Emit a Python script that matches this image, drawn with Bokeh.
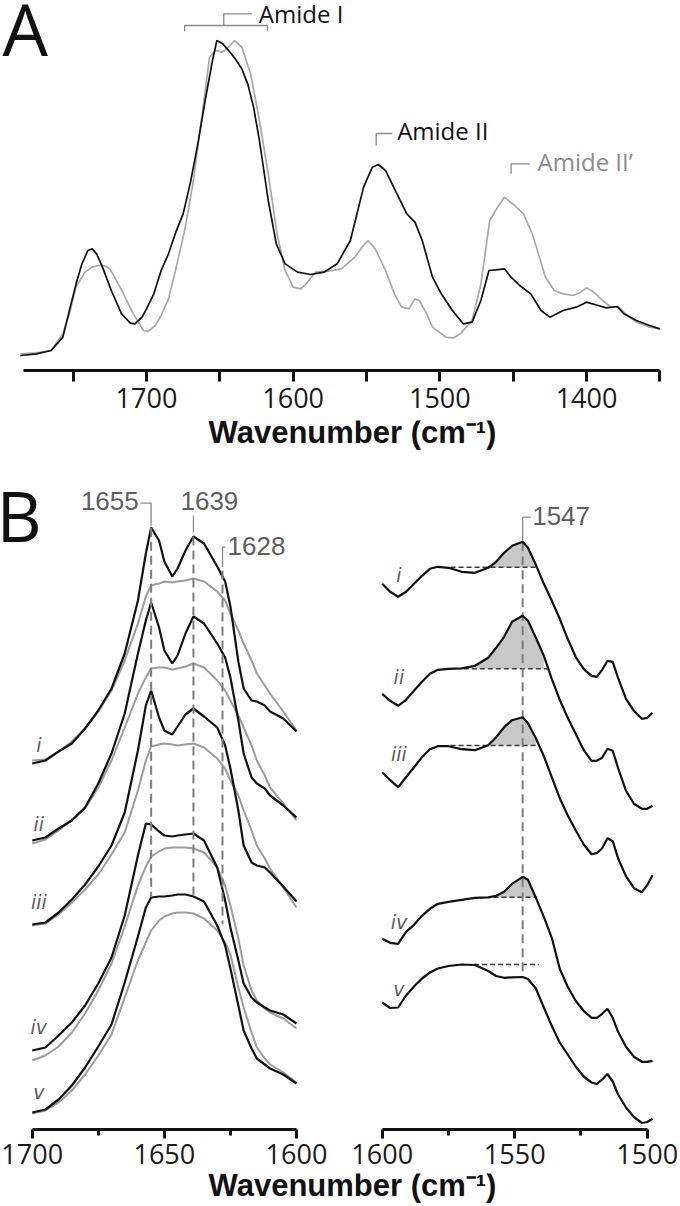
import numpy as np
from bokeh.plotting import figure
from bokeh.models import Range1d, FixedTicker, Label
from bokeh.layouts import column, row
from bokeh.embed import file_html
from bokeh.resources import INLINE

# ---------------- Panel A data (wavenumber, absorbance a.u.) ----------------
wn_a_black = [1786, 1775, 1765, 1757, 1752, 1748, 1744, 1740, 1737, 1734, 1730, 1724, 1717, 1711, 1708,
              1703, 1700, 1695, 1690, 1685, 1680, 1675, 1670, 1665, 1660, 1655, 1652, 1648, 1645, 1640,
              1635, 1631, 1627, 1623, 1617, 1611.5, 1605.5, 1597, 1588, 1579, 1570, 1561, 1552, 1546, 1542,
              1537, 1531.5, 1522.5, 1517, 1512, 1505, 1499, 1491.5, 1484, 1478, 1472, 1466.5, 1462, 1456,
              1451.5, 1445.5, 1438, 1431, 1425, 1416, 1407, 1400, 1392, 1386.5, 1379, 1374.5, 1366, 1357, 1350]
abs_a_black = [0.5, 1.0, 2.0, 6.0, 15, 22, 28, 32, 32.5, 31, 27, 20, 13, 10.2, 10,
               12, 14.5, 19, 26, 31, 37.5, 43, 52.5, 64, 77, 89, 95, 94, 92.5, 89.8,
               86.5, 82, 75, 65, 47, 34, 28, 25.5, 24.8, 25.5, 28, 35, 51, 57, 57.8,
               56, 51, 43, 40.5, 35, 24, 19, 14, 10, 10.5, 17, 26, 26.2, 26.5,
               24, 21.5, 19, 14, 12, 14, 15, 16.5, 15.5, 14.8, 15.2, 13, 11, 9.5, 8.5]
wn_a_gray = [1786, 1775, 1765, 1757, 1752, 1748, 1742, 1737, 1733, 1729, 1725, 1718, 1709, 1702, 1699,
             1694, 1690, 1685, 1680, 1674, 1668, 1662, 1657, 1653, 1648.5, 1644, 1640, 1635, 1629, 1623,
             1617, 1611, 1605.5, 1600, 1595, 1591, 1585, 1576, 1567, 1558, 1553, 1549, 1544, 1537, 1531,
             1526, 1521, 1517, 1514, 1509, 1505, 1496, 1491, 1486, 1478, 1472, 1466, 1462, 1456, 1449,
             1443, 1437, 1428, 1422, 1416, 1409, 1404, 1400, 1395, 1389, 1384, 1378, 1372, 1366, 1357, 1350]
abs_a_gray = [1.0, 1.3, 2.0, 7.0, 14, 21, 25.5, 27, 27.5, 27.5, 26.5, 21, 13, 8, 7.7,
              9.5, 12.5, 17.5, 26.5, 38, 53, 73, 90, 92, 91.5, 93, 95, 93, 85, 71,
              55, 37, 26, 21, 20.5, 22, 25.5, 25.8, 26.5, 30, 33, 35, 32.5, 26, 19,
              15, 14.5, 17.5, 17, 13, 9, 6, 5.7, 7, 11, 22, 41, 44, 48, 45.5,
              43, 37, 24, 20, 19, 18.5, 19.5, 20.8, 19.5, 17, 15.2, 15, 12.5, 10.5, 9, 8.5]
ticks_a = [1750, 1700, 1650, 1600, 1550, 1500, 1450, 1400, 1350]
labelled_ticks_a = [1700, 1600, 1500, 1400]
amide_labels = ["Amide I", "Amide II", "Amide II\u2019"]
x_title = "Wavenumber (cm\u207b\u00b9)"

# ---------------- Panel B data ----------------
samples = ["i", "ii", "iii", "iv", "v"]
wn_b_left = [1700, 1695, 1690, 1685, 1680, 1675, 1670, 1665, 1660, 1657, 1655, 1652, 1650, 1647, 1645,
             1642, 1639, 1635, 1630, 1627, 1625, 1622, 1620, 1617, 1615, 1612, 1610, 1605, 1600]
left_black = [
    [0, 0.03, 0.12, 0.20, 0.35, 0.53, 0.75, 1.10, 1.63, 2.10, 2.36, 2.23, 2.02, 1.87, 1.95,
     2.13, 2.27, 2.20, 1.97, 1.82, 1.57, 1.02, 0.75, 0.63, 0.62, 0.58, 0.52, 0.45, 0.32],
    [0, 0.03, 0.12, 0.20, 0.33, 0.57, 0.87, 1.27, 1.87, 2.20, 2.38, 2.13, 1.90, 1.77, 1.85,
     2.07, 2.24, 2.17, 1.97, 1.83, 1.63, 1.20, 0.87, 0.63, 0.57, 0.52, 0.45, 0.35, 0.23],
    [0, 0.02, 0.12, 0.25, 0.40, 0.58, 0.79, 1.12, 1.74, 2.19, 2.34, 2.07, 1.94, 1.90, 1.98,
     2.10, 2.16, 2.08, 1.97, 1.79, 1.56, 1.14, 0.79, 0.62, 0.59, 0.57, 0.52, 0.38, 0.23],
    [0, 0.03, 0.15, 0.28, 0.45, 0.67, 0.93, 1.35, 1.95, 2.27, 2.26, 2.19, 2.15, 2.14, 2.15,
     2.16, 2.17, 2.10, 1.83, 1.50, 1.23, 0.90, 0.67, 0.53, 0.48, 0.43, 0.40, 0.36, 0.27],
    [0, 0.03, 0.13, 0.27, 0.45, 0.66, 0.88, 1.30, 1.76, 2.05, 2.15, 2.16, 2.16, 2.17, 2.18,
     2.18, 2.16, 2.11, 1.87, 1.67, 1.44, 1.07, 0.82, 0.64, 0.54, 0.48, 0.44, 0.38, 0.29],
]
left_gray = [
    [0.03, 0.04, 0.12, 0.22, 0.35, 0.52, 0.73, 1.03, 1.40, 1.67, 1.78, 1.80, 1.82, 1.81, 1.82,
     1.83, 1.85, 1.82, 1.72, 1.63, 1.50, 1.33, 1.20, 1.03, 0.90, 0.78, 0.70, 0.52, 0.33],
    [-0.03, 0.01, 0.10, 0.21, 0.32, 0.53, 0.80, 1.13, 1.47, 1.63, 1.72, 1.73, 1.73, 1.71, 1.72,
     1.74, 1.77, 1.73, 1.60, 1.50, 1.40, 1.25, 1.13, 0.95, 0.80, 0.65, 0.53, 0.37, 0.20],
    [-0.01, 0.01, 0.10, 0.22, 0.35, 0.50, 0.70, 0.92, 1.34, 1.64, 1.78, 1.80, 1.81, 1.80, 1.79,
     1.80, 1.81, 1.77, 1.66, 1.56, 1.44, 1.29, 1.14, 0.94, 0.79, 0.66, 0.56, 0.37, 0.17],
    [-0.10, -0.05, 0.04, 0.18, 0.37, 0.60, 0.87, 1.24, 1.65, 1.84, 1.94, 1.99, 2.02, 2.03, 2.03,
     2.03, 2.02, 1.98, 1.83, 1.65, 1.45, 1.12, 0.85, 0.60, 0.50, 0.42, 0.38, 0.32, 0.22],
    [-0.01, 0.02, 0.10, 0.22, 0.38, 0.57, 0.78, 1.15, 1.52, 1.70, 1.82, 1.92, 1.96, 1.99, 2.00,
     2.00, 1.99, 1.94, 1.82, 1.70, 1.58, 1.25, 1.05, 0.80, 0.65, 0.54, 0.48, 0.40, 0.30],
]
wn_b_right = [1600, 1597, 1594, 1591, 1588, 1585, 1582, 1579, 1575, 1570, 1565, 1560, 1557, 1554, 1551,
              1547, 1545, 1542, 1539, 1536, 1533, 1530, 1527, 1524, 1521, 1519, 1517, 1515, 1513, 1511,
              1508, 1505, 1502, 1500, 1498]
right_black = [
    [0, -0.08, -0.13, -0.08, 0, 0.08, 0.15, 0.17, 0.16, 0.12, 0.11, 0.16, 0.22, 0.31, 0.38,
     0.42, 0.36, 0.19, 0, -0.17, -0.35, -0.55, -0.73, -0.85, -0.92, -0.93, -0.86, -0.77, -0.78, -0.94,
     -1.15, -1.27, -1.35, -1.34, -1.29],
    [0, -0.07, -0.12, -0.06, 0.03, 0.12, 0.20, 0.24, 0.25, 0.255, 0.28, 0.36, 0.46, 0.57, 0.72,
     0.78, 0.73, 0.56, 0.38, 0.15, -0.06, -0.24, -0.40, -0.56, -0.67, -0.67, -0.64, -0.55, -0.57, -0.74,
     -0.97, -1.10, -1.15, -1.15, -1.12],
    [0, -0.08, -0.15, -0.05, 0.05, 0.15, 0.23, 0.26, 0.26, 0.23, 0.22, 0.27, 0.35, 0.45, 0.52,
     0.55, 0.49, 0.34, 0.16, -0.05, -0.26, -0.43, -0.58, -0.72, -0.82, -0.81, -0.76, -0.66, -0.69, -0.86,
     -1.04, -1.16, -1.20, -1.13, -1.03],
    [0, -0.04, -0.05, 0.07, 0.14, 0.23, 0.30, 0.35, 0.37, 0.39, 0.41, 0.415, 0.43, 0.47, 0.55,
     0.62, 0.59, 0.41, 0.22, 0.01, -0.30, -0.48, -0.62, -0.72, -0.79, -0.79, -0.75, -0.70, -0.79, -0.93,
     -1.08, -1.18, -1.23, -1.23, -1.22],
    [0, -0.055, -0.05, 0.07, 0.16, 0.24, 0.30, 0.34, 0.365, 0.38, 0.375, 0.315, 0.265, 0.247, 0.252,
     0.255, 0.235, 0.14, -0.05, -0.235, -0.40, -0.52, -0.64, -0.74, -0.80, -0.815, -0.77, -0.715, -0.79, -0.92,
     -1.05, -1.145, -1.205, -1.195, -1.163],
]
# integration baseline of the 1547 band (relative value) and its extent (wavenumbers)
band_baseline = [0.166, 0.25, 0.267, 0.416, 0.38]
band_from = [1574.2, 1569.2, 1574.2, 1558.0, 1565.4]
band_to = [1541.5, 1537.5, 1540.9, 1541.5, 1540.9]
band_filled = [True, True, True, True, False]
peaks_left = [1655, 1639, 1628]
peak_right = 1547

# ---------------- layout / style constants ----------------
W = 680
HA, HXA, HB, HXB = 420, 30, 723, 33
offsets_left = [3.66, 2.89, 2.05, 0.79, 0.17]
offsets_right = [5.457, 4.357, 3.573, 1.907, 1.27]
BLACK = "#111111"
GRAY_A = "#a9a9a9"
GRAY_B = "#9c9c9c"
DASH = "#7d7d7d"
TXT_GRAY = "#5e5e5e"
BRACKET = "#8a8a8a"
FILL = "#c8c8c8"
BASE_SHIFT = 0.36   # empirical: Label draws the alphabetic baseline ~0.36 em below y


def base_fig(width, height, xr, yr, **kw):
    p = figure(width=width, height=height, x_range=xr, y_range=yr, output_backend="svg",
               toolbar_location=None, y_axis_location=None, outline_line_color=None,
               border_fill_color="white", background_fill_color="white", **kw)
    p.grid.visible = False
    return p


def style_axis(ax, ticks, minor, overrides, tick_out, minor_out, standoff):
    ax.ticker = FixedTicker(ticks=ticks, minor_ticks=minor)
    ax.major_label_overrides = overrides
    ax.axis_line_width = 3
    ax.axis_line_color = BLACK
    ax.major_tick_line_width = 3
    ax.major_tick_line_color = BLACK
    ax.minor_tick_line_width = 3
    ax.minor_tick_line_color = BLACK
    ax.major_tick_in = 0
    ax.major_tick_out = tick_out
    ax.minor_tick_in = 0
    ax.minor_tick_out = minor_out
    ax.major_label_text_font = "Open Sans"
    ax.major_label_text_font_size = "27px"
    ax.major_label_text_color = "#1a1a1a"
    ax.major_label_standoff = standoff


def add_label(p, x, y, text, px_per_unit, font="Open Sans", size=24, color=BLACK, align="left",
              style="normal"):
    y_anchor = y + BASE_SHIFT * size / px_per_unit
    p.add_layout(Label(x=x, y=y_anchor, text=text, text_font=font, text_font_size=f"{size}px",
                       text_color=color, text_align=align, text_baseline="alphabetic",
                       text_font_style=style))


# ================= Panel A =================
PPU_A = 370 / 111.0
pA = base_fig(W, HA, Range1d(1799.54, 1335.92), Range1d(-4, 107),
              min_border_left=0, min_border_right=0, min_border_top=0, min_border_bottom=HA - 370)
style_axis(pA.xaxis[0], ticks_a, [], {t: ("" if t not in labelled_ticks_a else str(t)) for t in ticks_a},
           11, 0, 6)
pA.xaxis[0].bounds = (1350, 1784)
pA.line(wn_a_gray, abs_a_gray, line_color=GRAY_A, line_width=1.7)
pA.line(wn_a_black, abs_a_black, line_color=BLACK, line_width=1.7)

pA.multi_line(xs=[[1674, 1674, 1617.5, 1617.5], [1647.3, 1647.3, 1628],
                  [1543.4, 1543.4, 1532.3], [1451.4, 1451.4, 1438.7]],
              ys=[[97.8, 99.5, 99.5, 97.8], [99.5, 103, 103], [63.5, 67.1, 67.1], [55, 58, 58]],
              line_color=BRACKET, line_width=1.3)
add_label(pA, 1623.4, 100.5, amide_labels[0], PPU_A, size=24, color=BLACK)
add_label(pA, 1529.1, 65.5, amide_labels[1], PPU_A, size=24, color=BLACK)
add_label(pA, 1433.4, 56.2, amide_labels[2], PPU_A, size=24, color="#8c8c8c")
add_label(pA, 1798.2, 91.0, "A", PPU_A, size=72, color=BLACK)

XL_FONT = "Liberation Sans"


def title_fig(height, baseline_from_top):
    p = base_fig(W, height, Range1d(0, W), Range1d(0, height), x_axis_location=None, min_border=0)
    add_label(p, 352, height - baseline_from_top, x_title, 1.0, font=XL_FONT, size=31,
              align="center", style="bold")
    return p


pXA = title_fig(HXA, 23)

# ================= Panel B left =================
PPU_B = 100.0
pBL = base_fig(340, HB, Range1d(1712.0, 1583.35), Range1d(0, 6.79),
               min_border_left=0, min_border_right=0, min_border_top=0, min_border_bottom=HB - 679)
style_axis(pBL.xaxis[0], [1600, 1650, 1700], [1625, 1675], {}, 9, 6, 5)
pBL.xaxis[0].bounds = (1600, 1700)

for k in range(5):
    off = offsets_left[k]
    pBL.line(wn_b_left, np.array(left_gray[k]) + off, line_color=GRAY_B, line_width=2)
    pBL.line(wn_b_left, np.array(left_black[k]) + off, line_color=BLACK, line_width=2.2)

pBL.segment(x0=peaks_left, x1=peaks_left, y0=[6.017, 5.93, 5.59], y1=[2.323, 2.323, 2.057],
            line_color=DASH, line_width=2, line_dash="9 5")
pBL.multi_line(xs=[[1659, 1655, 1655], [1639, 1639], [1628, 1628, 1626.9]],
               ys=[[6.263, 6.263, 6.04], [6.14, 5.973], [5.623, 5.823, 5.823]],
               line_color=BRACKET, line_width=1.3)
add_label(pBL, 1659.7, 6.19, str(peaks_left[0]), PPU_B, font="Liberation Sans", size=26,
          color=TXT_GRAY, align="right")
add_label(pBL, 1643.9, 6.19, str(peaks_left[1]), PPU_B, font="Liberation Sans", size=26, color=TXT_GRAY)
add_label(pBL, 1626.1, 5.74, str(peaks_left[2]), PPU_B, font="Liberation Sans", size=26, color=TXT_GRAY)
add_label(pBL, 1713.5, 5.89, "B", PPU_B, size=70, color=BLACK)

left_lab_y = [3.773, 2.99, 2.21, 0.957, 0.31]
for k in range(5):
    add_label(pBL, 1697.5, left_lab_y[k], samples[k], PPU_B, font="DejaVu Sans", size=19,
              color=TXT_GRAY, align="center", style="italic")

# ================= Panel B right =================
pBR = base_fig(340, HB, Range1d(1615.74, 1487.43), Range1d(0, 6.79),
               min_border_left=0, min_border_right=0, min_border_top=0, min_border_bottom=HB - 679)
style_axis(pBR.xaxis[0], [1500, 1550, 1600], [1525, 1575], {}, 9, 6, 5)
pBR.xaxis[0].bounds = (1500, 1600)

gr = np.array(wn_b_right, dtype=float)
for k in range(5):
    off = offsets_right[k]
    vals = np.array(right_black[k], dtype=float)
    base = band_baseline[k]
    if band_filled[k]:
        m = (gr >= band_to[k]) & (gr <= band_from[k])
        x = gr[m]
        pBR.varea(x=x, y1=np.full(len(x), off + base), y2=off + np.maximum(vals[m], base),
                  fill_color=FILL)
    pBR.segment(x0=[band_from[k]], x1=[band_to[k]], y0=[off + base], y1=[off + base],
                line_color="#3a3a3a", line_width=1.4, line_dash="5 3")

pBR.segment(x0=[peak_right], x1=[peak_right], y0=[5.873], y1=[1.54],
            line_color=DASH, line_width=2, line_dash="9 5")
for k in range(5):
    pBR.line(wn_b_right, np.array(right_black[k]) + offsets_right[k], line_color=BLACK, line_width=2.2)

pBR.multi_line(xs=[[1547, 1547, 1544]], ys=[[5.89, 6.123, 6.123]], line_color=BRACKET, line_width=1.3)
add_label(pBR, 1543.4, 6.04, str(peak_right), PPU_B, font="Liberation Sans", size=26, color=TXT_GRAY)

right_lab_y = [5.473, 4.457, 3.69, 2.007, 1.34]
for k in range(5):
    add_label(pBR, 1593.7, right_lab_y[k], samples[k], PPU_B, font="DejaVu Sans", size=19,
              color=TXT_GRAY, align="center", style="italic")

# ================= shared x-axis title of panel B =================
pXB = title_fig(HXB, 23)

layout = column(pA, pXA, row(pBL, pBR), pXB)
open("out.html", "w").write(file_html(layout, INLINE))
